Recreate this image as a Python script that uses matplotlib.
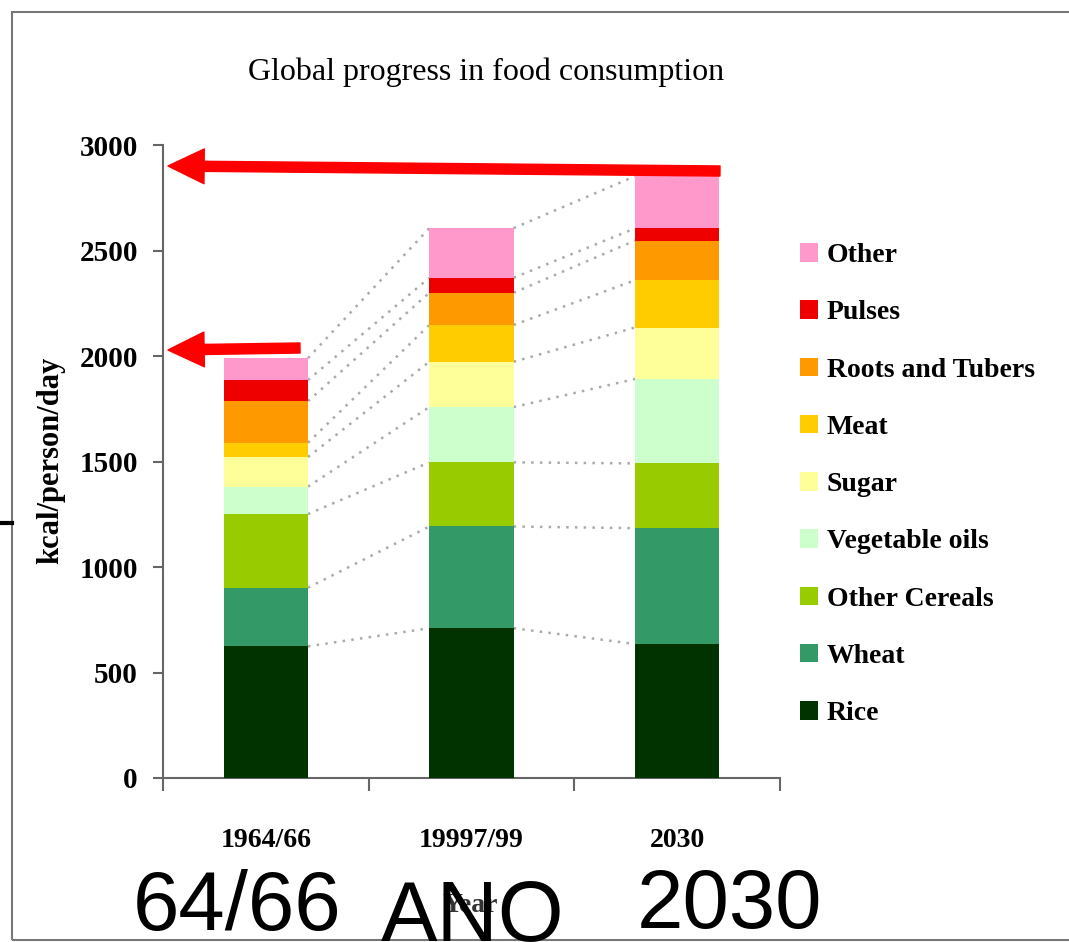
import matplotlib.pyplot as plt
import numpy as np
from matplotlib.lines import Line2D
from matplotlib.patches import Patch, Rectangle

# categories and values (kcal/person/day)
periods = ['1964/66', '19997/99', '2030']
foods = ['Rice', 'Wheat', 'Other Cereals', 'Vegetable oils', 'Sugar',
         'Meat', 'Roots and Tubers', 'Pulses', 'Other']
rice = [624, 710, 635]
wheat = [278, 482, 549]
other_cereals = [349, 304, 307]
veg_oils = [130, 262, 400]
sugar = [140, 215, 244]
meat = [68, 174, 224]
roots = [197, 153, 188]
pulses = [100, 71, 58]
other = [104, 235, 247]
yticks = [0, 500, 1000, 1500, 2000, 2500, 3000]

colors = {
    'Rice': '#003300',
    'Wheat': '#339966',
    'Other Cereals': '#99cc00',
    'Vegetable oils': '#ccffcc',
    'Sugar': '#ffff99',
    'Meat': '#ffcc00',
    'Roots and Tubers': '#ff9900',
    'Pulses': '#ee0000',
    'Other': '#ff99cc',
}

series = [rice, wheat, other_cereals, veg_oils, sugar, meat, roots, pulses, other]

W, H = 1069, 942
fig = plt.figure(figsize=(W / 100, H / 100), dpi=100)
ax = fig.add_axes([163 / W, 1 - 778 / H, 617 / W, 633 / H])

serif = 'Liberation Serif'
x = np.arange(len(periods))
bw = 0.41

# stacked bars
bottom = np.zeros(len(periods))
levels = []
for name, vals in zip(foods, series):
    vals = np.array(vals, dtype=float)
    ax.bar(x, vals, bw, bottom=bottom, color=colors[name], edgecolor='none',
           zorder=3, label=name)
    bottom = bottom + vals
    levels.append(bottom.copy())

# dotted connectors between neighbouring bars
for lev in levels:
    for i in range(len(periods) - 1):
        ax.plot([x[i] + bw / 2, x[i + 1] - bw / 2], [lev[i], lev[i + 1]],
                linestyle=(0, (1, 2.5)), color='#aaaaaa', lw=1.8, zorder=2)

ax.set_xlim(-0.5, 2.5)
ax.set_ylim(0, 3000)
for s in ['top', 'right']:
    ax.spines[s].set_visible(False)
for s in ['left', 'bottom']:
    ax.spines[s].set_color('#666666')
    ax.spines[s].set_linewidth(1.5)

ax.set_yticks(yticks)
ax.set_yticklabels([str(v) for v in yticks], fontfamily=serif,
                   fontweight='bold', fontsize=21)
ax.tick_params(axis='y', length=7, width=1.5, color='#666666', pad=11)

ax.set_xticks(x)
ax.set_xticklabels(periods, fontfamily=serif, fontweight='bold', fontsize=20)
ax.set_xticks([-0.5, 0.5, 1.5, 2.5], minor=True)
ax.tick_params(axis='x', which='major', length=0, pad=36)
ax.tick_params(axis='x', which='minor', length=9, width=1.5, color='#666666')

fig.text(486 / W, 1 - 72 / H, 'Global progress in food consumption',
         fontfamily=serif, fontsize=23, ha='center', va='center')
fig.text(51 / W, 1 - 460 / H, 'kcal/person/day', fontfamily=serif,
         fontweight='bold', fontsize=22, rotation=90, ha='center', va='center')
fig.text(470 / W, 1 - 905 / H, 'Year', fontfamily=serif, fontweight='bold',
         fontsize=20, ha='center', va='center', color='#333333')

# legend (top entry = last stacked series)
handles = [Patch(facecolor=colors[n]) for n in foods[::-1]]
fig.legend(handles, foods[::-1], loc='upper left',
           bbox_to_anchor=(800 / W, 1 - 243 / H), frameon=False,
           borderpad=0, borderaxespad=0, labelspacing=1.16,
           handlelength=0.65, handleheight=0.65, handletextpad=0.32,
           prop={'family': serif, 'weight': 'bold', 'size': 20})

# red arrows
arrow = dict(arrowstyle='simple,head_length=1.04,head_width=1.0,tail_width=0.29',
             mutation_scale=25, color='red', shrinkA=0, shrinkB=0)
ax.annotate('', xy=(168, H - 166), xytext=(720, H - 171),
            xycoords='figure pixels', textcoords='figure pixels',
            arrowprops=arrow, annotation_clip=False, zorder=10)
ax.annotate('', xy=(168, H - 350), xytext=(300, H - 348),
            xycoords='figure pixels', textcoords='figure pixels',
            arrowprops=arrow, annotation_clip=False, zorder=10)

# screenshot frame and overlay text
fig.add_artist(Rectangle((12 / W, 1 - 940 / H), 1.1, 928 / H,
                         transform=fig.transFigure, fill=False,
                         edgecolor='#777777', lw=1.5))
fig.add_artist(Line2D([0, 12 / W], [1 - 523 / H, 1 - 523 / H],
                      transform=fig.transFigure, color='black', lw=3))

sans = 'Liberation Sans'
fig.text(133 / W, 1 - 930 / H, '64/66', fontfamily=sans, fontsize=60,
         ha='left', va='baseline')
fig.text(381 / W, 1 - 941 / H, 'ANO', fontfamily=sans, fontsize=61,
         ha='left', va='baseline')
fig.text(637 / W, 1 - 928 / H, '2030', fontfamily=sans, fontsize=60,
         ha='left', va='baseline')

fig.savefig('out.png', dpi=100)
